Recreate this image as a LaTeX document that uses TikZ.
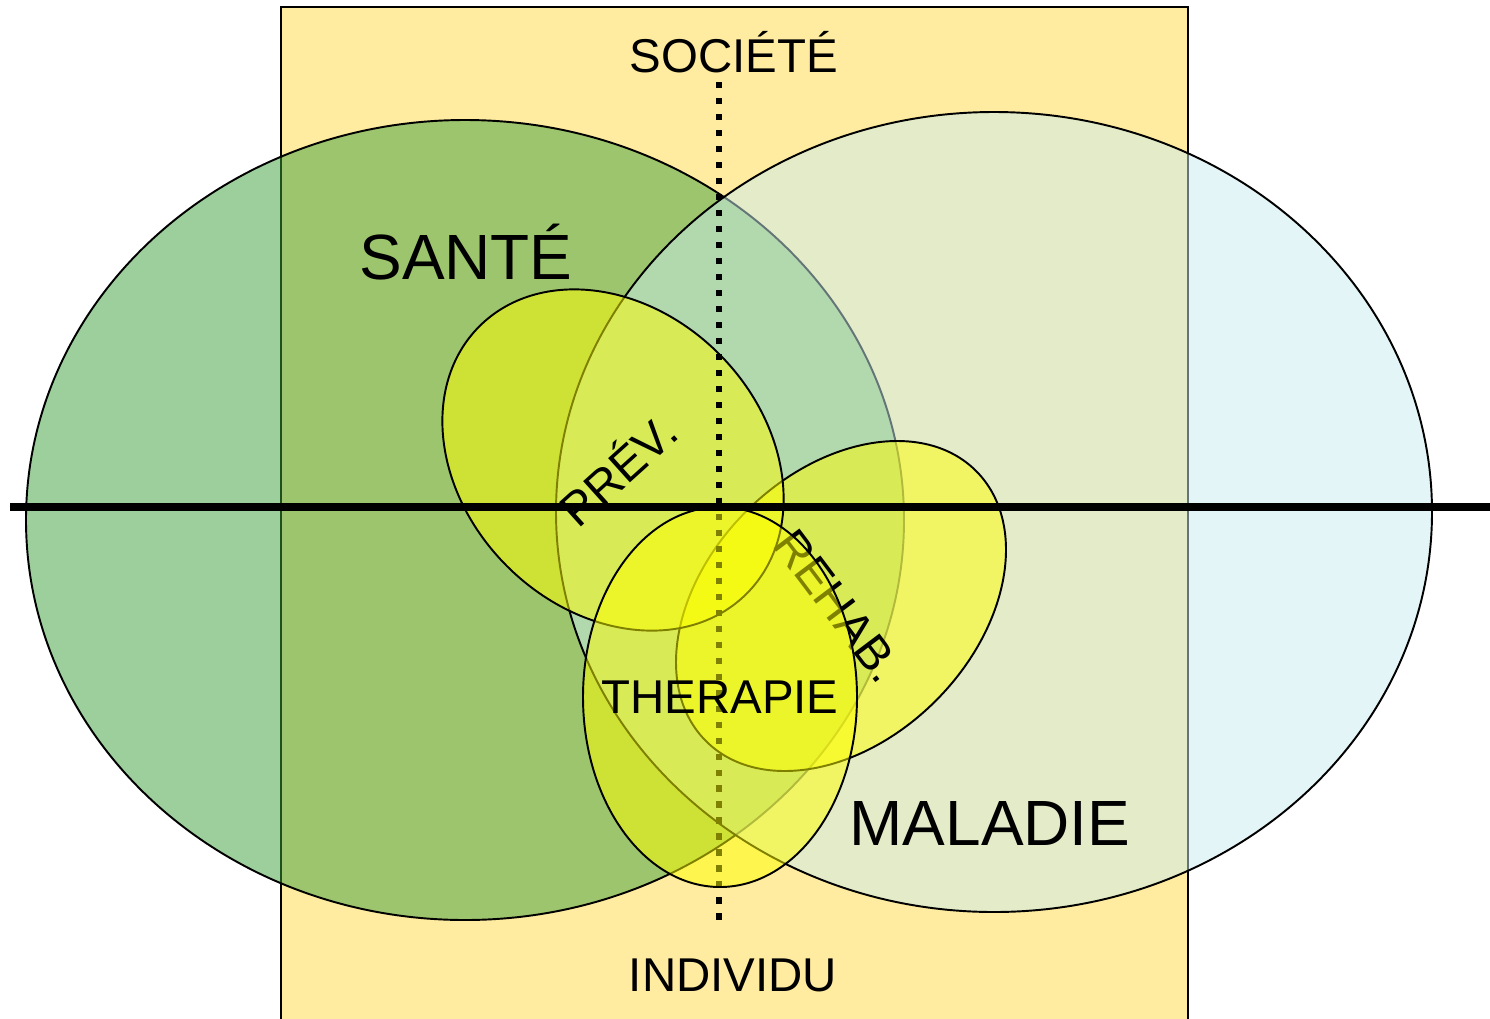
\documentclass[tikz,border=0pt]{standalone}
\usepackage{fontspec}
\setmainfont{Liberation Sans}
\usepackage{xcolor}
\definecolor{sandy}{RGB}{255, 236, 160}
\definecolor{leafgreen}{RGB}{60, 160, 60}
\definecolor{paleblue}{RGB}{200, 235, 240}
\definecolor{lemon}{RGB}{255, 255, 0}
\usetikzlibrary{positioning}
\tikzset{
  band/.style = {
    draw=black,
    line width=1pt,
    fill=sandy
  },
  zone/.style = {
    draw=black,
    line width=1.1pt,
    fill=#1,
    fill opacity=0.5
  },
  spot/.style = {
    draw=black,
    line width=1.1pt,
    fill=lemon,
    fill opacity=0.5
  },
  word/.style = {
    font=\fontsize{27}{31}\selectfont,
    inner sep=0pt
  },
  bigword/.style = {
    font=\fontsize{36.4}{41}\selectfont,
    inner sep=0pt
  },
  axisline/.style = {
    line width=4pt
  },
  dotline/.style = {
    line width=3.8pt,
    dash pattern=on 3.6pt off 5.5pt
  },
}

\begin{document}
\begin{tikzpicture}[x=0.02cm, y=-0.02cm]
    \useasboundingbox (0,0) rectangle (1490,1018);
    % society / individual band
    \filldraw[band] (281,7) rectangle (1188,1040);
    % health and illness
    \filldraw[zone=leafgreen] (465,520) ellipse [x radius=439, y radius=400];
    \filldraw[zone=paleblue]  (994,512) ellipse [x radius=438, y radius=400];
    % rehabilitation
    \filldraw[spot, rotate around={45:(841,606)}] (841,606) ellipse [x radius=191, y radius=134];
    \node[word, rotate=-53] (rehab) at (838,606) {REHAB.};
    % prevention
    \filldraw[spot, rotate around={-45:(613,460)}] (613,460) ellipse [x radius=189, y radius=150];
    \node[word, rotate=42]  (prev)  at (616,468) {PRÉV.};
    % vertical axis
    \coordinate (societe-end)  at (719,82);
    \coordinate (individu-end) at (719,922);
    \draw[dotline] (societe-end) -- (individu-end);
    % therapy
    \filldraw[spot] (720,697) ellipse [x radius=137, y radius=190];
    \node[word] (therapie) at (720,697) {THERAPIE};
    % horizontal axis
    \coordinate (axis-left)  at (10,507);
    \coordinate (axis-right) at (1490,507);
    \draw[axisline] (axis-left) -- (axis-right);
    \node[word]    (societe)  at (734,52)  {SOCIÉTÉ};
    \node[word]    (individu) at (733,975) {INDIVIDU};
    \node[bigword] (sante)    at (466,252) {SANTÉ};
    \node[bigword] (maladie)  at (990,823) {MALADIE};
\end{tikzpicture}
\end{document}
